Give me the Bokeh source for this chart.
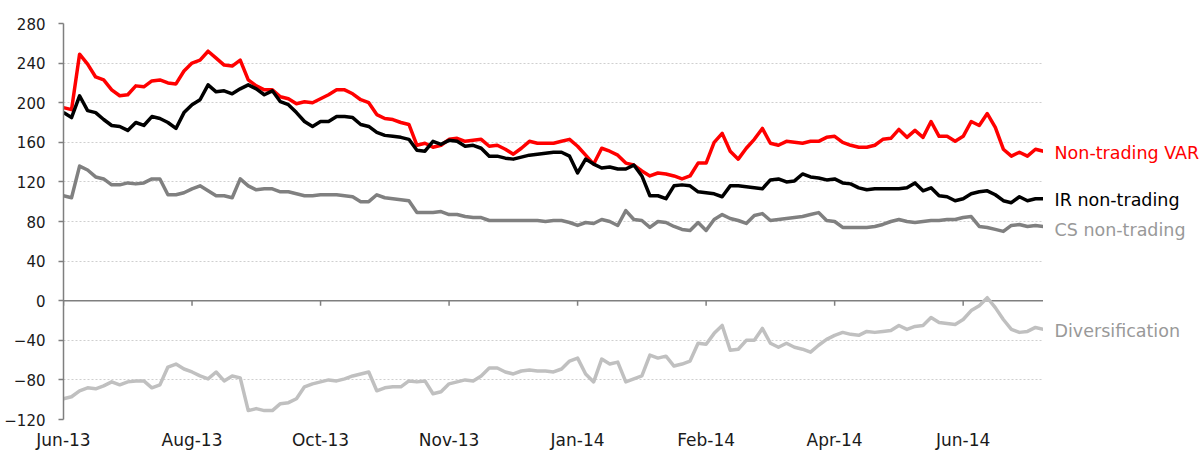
from bokeh.plotting import figure
from bokeh.layouts import row
from bokeh.models import Range1d, FixedTicker, Span
from bokeh.core.properties import value
from bokeh.embed import file_html
from bokeh.resources import INLINE

tick_idx = [0, 16, 32, 48, 64, 80, 96, 112]
tick_labels = ["Jun-13", "Aug-13", "Oct-13", "Nov-13", "Jan-14", "Feb-14", "Apr-14", "Jun-14"]
y_ticks = [-120, -80, -40, 0, 40, 80, 120, 160, 200, 240, 280]

non_trading_var = [
    195, 193, 249, 239, 226, 223, 213, 207, 208, 217, 216, 222, 223, 220, 219, 232, 240, 243, 252, 245,
    238, 237, 243, 223, 217, 213, 213, 206, 204, 199, 201, 200, 204, 208, 213, 213, 209, 203, 200, 188,
    184, 183, 180, 178, 157, 159, 155, 157, 163, 164, 161, 162, 163, 156, 157, 153, 148, 154, 161, 159,
    159, 159, 161, 163, 156, 147, 138, 154, 151, 147, 139, 137, 131, 126, 129, 128, 126, 123, 126, 139,
    139, 160, 169, 151, 143, 154, 163, 174, 159, 157, 161, 160, 159, 161, 161, 165, 166, 160, 157, 155,
    155, 157, 163, 164, 173, 165, 172, 165, 181, 166, 166, 161, 166, 181, 177, 189, 175, 153, 146, 150,
    146, 153, 151,
]
ir_non_trading = [
    190, 185, 207, 192, 190, 183, 177, 176, 172, 180, 177, 186, 184, 180, 174, 190, 198, 203, 218, 211,
    212, 209, 214, 218, 214, 208, 212, 201, 198, 190, 181, 176, 181, 181, 186, 186, 185, 178, 176, 170,
    167, 166, 165, 163, 152, 151, 161, 158, 162, 161, 156, 157, 154, 146, 146, 144, 143, 145, 147, 148,
    149, 150, 150, 146, 129, 143, 138, 134, 135, 133, 133, 137, 126, 106, 106, 103, 116, 117, 116, 110,
    109, 108, 105, 116, 116, 115, 114, 113, 122, 123, 120, 121, 128, 125, 124, 122, 123, 119, 118, 114,
    112, 113, 113, 113, 113, 114, 119, 111, 114, 106, 105, 101, 103, 108, 110, 111, 107, 101, 99, 105,
    101, 103, 103,
]
cs_non_trading = [
    106, 104, 136, 132, 125, 123, 117, 117, 119, 118, 119, 123, 123, 107, 107, 109, 113, 116, 111, 106,
    106, 104, 123, 116, 112, 113, 113, 110, 110, 108, 106, 106, 107, 107, 107, 106, 105, 100, 100, 107,
    104, 103, 102, 101, 89, 89, 89, 90, 87, 87, 85, 84, 84, 81, 81, 81, 81, 81, 81, 81,
    80, 81, 81, 79, 76, 79, 78, 82, 80, 76, 91, 82, 81, 74, 80, 79, 75, 72, 71, 79,
    71, 82, 87, 83, 81, 78, 86, 88, 81, 82, 83, 84, 85, 87, 89, 81, 80, 74, 74, 74,
    74, 75, 77, 80, 82, 80, 79, 80, 81, 81, 82, 82, 84, 85, 75, 74, 72, 70, 76, 77,
    75, 76, 75,
]
diversification = [
    -99, -97, -91, -88, -89, -86, -82, -85, -82, -81, -81, -88, -85, -67, -64, -69, -72, -76, -79, -72,
    -81, -76, -78, -111, -109, -111, -111, -104, -103, -99, -87, -84, -82, -80, -81, -79, -76, -74, -72, -91,
    -88, -87, -87, -81, -82, -81, -94, -92, -84, -82, -80, -81, -76, -68, -68, -72, -74, -71, -70, -71,
    -71, -72, -69, -61, -58, -74, -82, -59, -64, -62, -82, -79, -76, -55, -58, -56, -66, -64, -61, -43,
    -44, -33, -25, -50, -49, -40, -40, -28, -43, -47, -43, -47, -49, -52, -45, -39, -35, -32, -34, -35,
    -31, -32, -31, -30, -25, -29, -26, -25, -17, -22, -23, -24, -19, -10, -5, 3, -7, -19, -29, -32,
    -31, -27, -29,
]
series_names = ["Non-trading VAR", "IR non-trading", "CS non-trading", "Diversification"]
idx = list(range(len(non_trading_var)))

FONT = "DejaVu Sans"
AXIS_GREY = "#7f7f7f"
TEXT_DARK = "#1a1a1a"
TICK_LEN = 5
TOP, BOTTOM, HEIGHT = 23, 30, 452
LEFT, FRAME_W, RIGHT_PANEL = 63, 980, 161

y_range = Range1d(-120, 280)

p = figure(width=LEFT + FRAME_W, height=HEIGHT, output_backend="svg", toolbar_location=None,
           x_range=Range1d(0, len(idx) - 1), y_range=y_range,
           min_border_left=LEFT, min_border_right=0, min_border_top=TOP, min_border_bottom=BOTTOM)
p.outline_line_color = None

xa = p.xaxis[0]
xa.ticker = FixedTicker(ticks=tick_idx)
xa.major_label_overrides = {t: l for t, l in zip(tick_idx, tick_labels)}
xa.axis_line_color = None
xa.major_tick_line_color = None
xa.major_tick_out = 0
xa.major_tick_in = 0
xa.minor_tick_line_color = None
xa.major_label_standoff = 10
xa.major_label_text_font = FONT
xa.major_label_text_font_size = "17px"
xa.major_label_text_color = TEXT_DARK

ya = p.yaxis[0]
ya.ticker = FixedTicker(ticks=y_ticks)
ya.axis_line_color = AXIS_GREY
ya.axis_line_width = 1.5
ya.major_tick_line_color = AXIS_GREY
ya.major_tick_line_width = 1.5
ya.major_tick_out = 5
ya.major_tick_in = 0
ya.minor_tick_line_color = None
ya.major_label_standoff = 13
ya.major_label_text_font = FONT
ya.major_label_text_font_size = "15px"
ya.major_label_text_color = TEXT_DARK

p.xgrid.grid_line_color = None
p.ygrid.ticker = FixedTicker(ticks=y_ticks)
p.ygrid.grid_line_color = "#cfcfcf"
p.ygrid.grid_line_dash = "2 2"
p.ygrid.grid_line_width = 1

# zero line acting as the category axis, with ticks hanging below it
p.add_layout(Span(location=0, dimension="width", line_color=AXIS_GREY, line_width=1.5, level="underlay"))
p.segment(x0=tick_idx, y0=[0] * len(tick_idx), x1=tick_idx, y1=[-TICK_LEN] * len(tick_idx),
          line_color=AXIS_GREY, line_width=1.5)

p.line(idx, diversification, line_color="#c0c0c0", line_width=3.5, line_join="round")
p.line(idx, cs_non_trading, line_color="#808080", line_width=3.5, line_join="round")
p.line(idx, non_trading_var, line_color="#ff0000", line_width=3.5, line_join="round")
p.line(idx, ir_non_trading, line_color="#000000", line_width=3.5, line_join="round")

# right-hand panel with the series names, sharing the y scale
p2 = figure(width=RIGHT_PANEL, height=HEIGHT, output_backend="svg", toolbar_location=None,
            x_range=Range1d(0, RIGHT_PANEL), y_range=y_range,
            min_border_left=0, min_border_right=0, min_border_top=TOP, min_border_bottom=BOTTOM)
p2.axis.visible = False
p2.grid.visible = False
p2.outline_line_color = None
last_vals = [non_trading_var[-1], ir_non_trading[-1], cs_non_trading[-1], diversification[-1]]
label_colors = ["#ff0000", "#000000", "#999999", "#999999"]
label_shift = [2, 1, 4, 2]
for name, val, col, dy in zip(series_names, last_vals, label_colors, label_shift):
    p2.text(x=[0], y=[val], text=[name], x_offset=11, y_offset=dy,
            text_baseline="middle", text_align="left", text_color=col,
            text_font=value(FONT), text_font_size="17.5px")

open("out.html", "w").write(file_html(row(p, p2), INLINE))
